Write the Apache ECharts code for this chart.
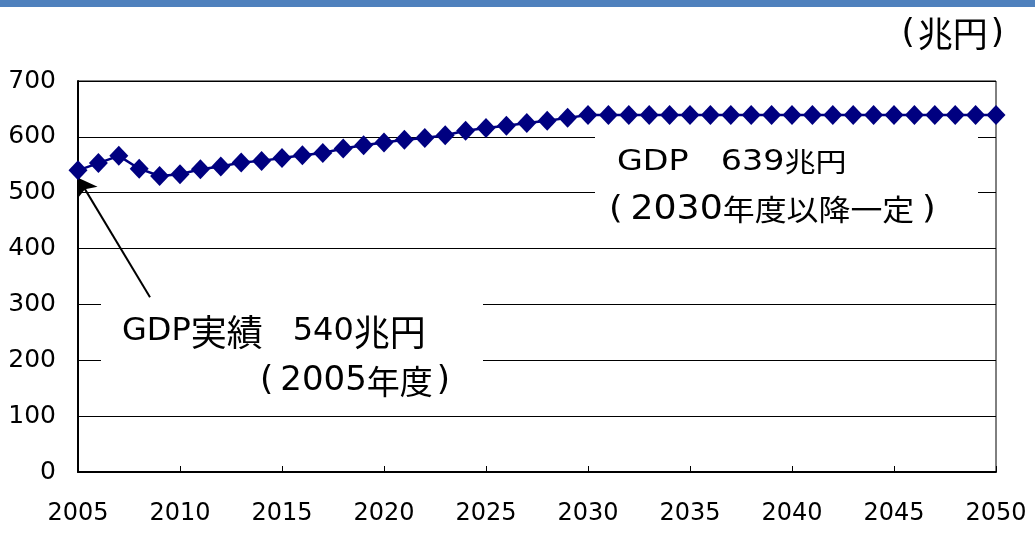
<!DOCTYPE html>
<html>
<head>
<meta charset="utf-8">
<script src="https://cdn.jsdelivr.net/npm/echarts@6/dist/echarts.min.js"></script>
<style>
html,body{margin:0;padding:0;background:#fff;}
#c{width:1035px;height:541px;}
</style>
</head>
<body>
<div id="c"></div>
<script>
// ---- data ----
const years = [2005,2006,2007,2008,2009,2010,2011,2012,2013,2014,
               2015,2016,2017,2018,2019,2020,2021,2022,2023,2024,
               2025,2026,2027,2028,2029,2030,2031,2032,2033,2034,
               2035,2036,2037,2038,2039,2040,2041,2042,2043,2044,
               2045,2046,2047,2048,2049,2050];
const gdp = [540,553,566,543,530,533,542,547,554,557,
             562,567,571,579,585,590,595,598,603,611,
             616,620,625,629,634,639,639,639,639,639,
             639,639,639,639,639,639,639,639,639,639,
             639,639,639,639,639,639];
const yTicks = [0,100,200,300,400,500,600,700];
const xTicks = [2005,2010,2015,2020,2025,2030,2035,2040,2045,2050];
const unitLabel = ['(', '兆円', ')'];
const noteFuture = ['GDP', '639', '兆円', '(', '2030', '年度以降一定', ')'];
const noteActual = ['GDP', '実績', '540', '兆円', '(', '2005', '年度', ')'];
const arrowFrom = [2008.53, 313];
const arrowTo = [2005, 527];

const seriesData = years.map((y, i) => [y, gdp[i]]);

const latin = "'DejaVu Sans'";
const cjk = "'Noto Sans CJK JP'";

const chart = echarts.init(document.getElementById('c'), null, {renderer: 'canvas'});
const option = {
  animation: false,
  backgroundColor: '#fff',
  grid: {left: 78, right: 39, top: 81, bottom: 69, show: true, borderColor: '#000', borderWidth: 1, backgroundColor: 'transparent'},
  xAxis: {
    type: 'value', min: xTicks[0], max: xTicks[xTicks.length - 1], interval: 5,
    axisLine: {show: true, lineStyle: {color: '#000', width: 2}},
    axisTick: {show: true, inside: true, length: 6, lineStyle: {color: '#000', width: 1}},
    splitLine: {show: false},
    axisLabel: {formatter: v => String(v), color: '#000', fontSize: 24, margin: 30, fontFamily: latin}
  },
  yAxis: {
    type: 'value', min: yTicks[0], max: yTicks[yTicks.length - 1], interval: 100,
    axisLine: {show: true, lineStyle: {color: '#000', width: 2}},
    axisTick: {show: false},
    splitLine: {show: true, lineStyle: {color: '#000', width: 1}},
    axisLabel: {color: '#000', fontSize: 25, margin: 22, fontFamily: latin}
  },
  series: [{
    type: 'line',
    data: seriesData,
    symbol: 'diamond',
    symbolSize: [19, 20],
    showAllSymbol: true,
    itemStyle: {color: '#000080'},
    lineStyle: {color: '#000080', width: 2.5},
    z: 5,
    markLine: {
      silent: true,
      symbol: ['none', 'arrow'],
      symbolSize: 18,
      lineStyle: {color: '#000', width: 2, type: 'solid'},
      label: {show: false},
      data: [[{coord: arrowFrom}, {coord: arrowTo}]]
    }
  }],
  graphic: [
    {type: 'rect', shape: {x: 0, y: 0, width: 1035, height: 7}, style: {fill: '#4F81BD'}, z: 10},
    {type: 'rect', shape: {x: 595, y: 132, width: 383, height: 106}, style: {fill: '#fff'}, z: 1},
    {type: 'rect', shape: {x: 101, y: 268, width: 382, height: 134}, style: {fill: '#fff'}, z: 1},
    {type: 'text', x: 1004, y: 34, z: 10,
     style: {
       text: '{p|' + unitLabel[0] + '}{c|' + unitLabel[1] + '}{q|' + unitLabel[2] + '}',
       fill: '#000', align: 'right', verticalAlign: 'middle',
       rich: {
         p: {fontFamily: latin, fontSize: 34, fill: '#000', padding: [0, 3, 0, 0]},
         q: {fontFamily: latin, fontSize: 34, fill: '#000', padding: [0, 0, 0, 3]},
         c: {fontFamily: cjk, fontSize: 35, fill: '#000'}
       }
     }},
    {type: 'text', x: 617, y: 162, z: 10, scaleX: 1.15, scaleY: 1,
     style: {
       text: '{l|' + noteFuture[0] + '}{s|　}{l|' + noteFuture[1] + '}{c|' + noteFuture[2] + '}',
       verticalAlign: 'middle', align: 'left', fill: '#000',
       rich: {
         l: {fontFamily: latin, fontSize: 29, fill: '#000'},
         s: {fontFamily: cjk, fontSize: 28, fill: '#000'},
         c: {fontFamily: cjk, fontSize: 27, fill: '#000'}
       }
     }},
    {type: 'text', x: 609, y: 210, z: 10, scaleX: 1.1, scaleY: 1,
     style: {
       text: '{p|' + noteFuture[3] + '}{l|' + noteFuture[4] + '}{c|' + noteFuture[5] + '}{q|' + noteFuture[6] + '}',
       verticalAlign: 'middle', align: 'left', fill: '#000',
       rich: {
         p: {fontFamily: latin, fontSize: 32, fill: '#000', padding: [0, 7, 0, 0]},
         q: {fontFamily: latin, fontSize: 32, fill: '#000', padding: [0, 0, 0, 7]},
         l: {fontFamily: latin, fontSize: 33, fill: '#000'},
         c: {fontFamily: cjk, fontSize: 29, fill: '#000'}
       }
     }},
    {type: 'text', x: 122, y: 332, z: 10,
     style: {
       text: '{l|' + noteActual[0] + '}{c|' + noteActual[1] + '}{s|　}{l|' + noteActual[2] + '}{c|' + noteActual[3] + '}',
       verticalAlign: 'middle', align: 'left', fill: '#000',
       rich: {
         l: {fontFamily: latin, fontSize: 32, fill: '#000'},
         s: {fontFamily: cjk, fontSize: 30, fill: '#000'},
         c: {fontFamily: cjk, fontSize: 36, fill: '#000'}
       }
     }},
    {type: 'text', x: 260, y: 381, z: 10,
     style: {
       text: '{p|' + noteActual[4] + '}{l|' + noteActual[5] + '}{c|' + noteActual[6] + '}{q|' + noteActual[7] + '}',
       verticalAlign: 'middle', align: 'left', fill: '#000',
       rich: {
         p: {fontFamily: latin, fontSize: 34, fill: '#000', padding: [0, 7, 0, 0]},
         q: {fontFamily: latin, fontSize: 34, fill: '#000', padding: [0, 0, 0, 4]},
         l: {fontFamily: latin, fontSize: 34, fill: '#000'},
         c: {fontFamily: cjk, fontSize: 33, fill: '#000'}
       }
     }}
  ]
};
chart.setOption(option);
</script>
</body>
</html>
